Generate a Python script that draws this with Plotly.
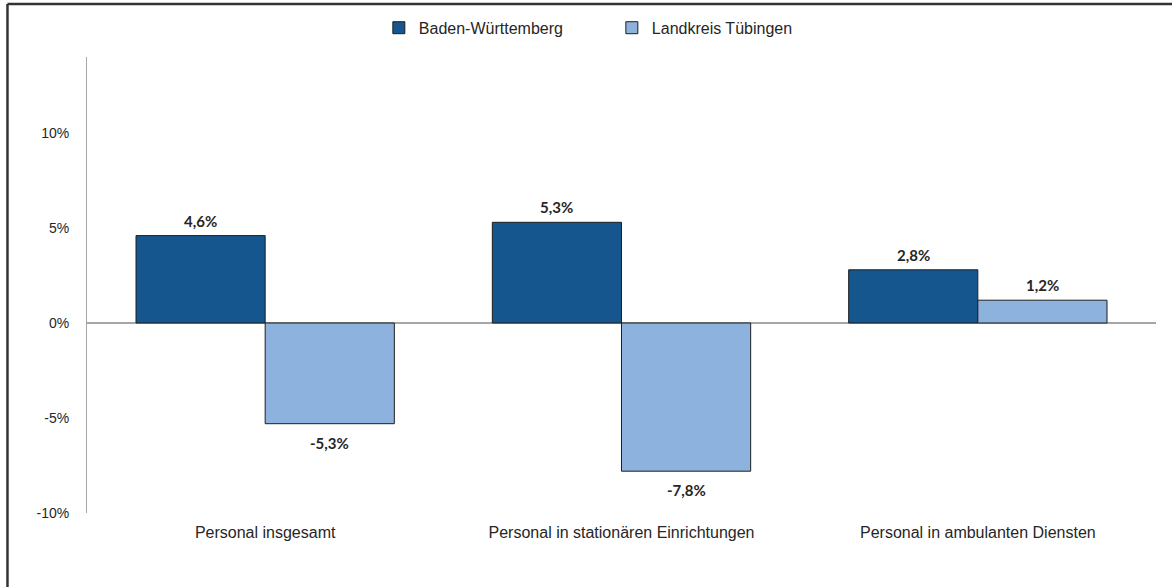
import plotly.graph_objects as go

categories = [
    "Personal insgesamt",
    "Personal in stationären Einrichtungen",
    "Personal in ambulanten Diensten",
]
baden_wuerttemberg = [4.6, 5.3, 2.8]
landkreis_tuebingen = [-5.3, -7.8, 1.2]
tick_values = [-10, -5, 0, 5, 10]
tick_labels = ["-10%", "-5%", "0%", "5%", "10%"]


def fmt(v):
    return "<b>" + f"{v:.1f}%".replace(".", ",") + "</b>"


BARGAP = 0.275
half_bar = (1 - BARGAP) / 4  # centre offset of each bar inside its group

label_font = dict(family="Lato, Open Sans, sans-serif", size=15, color="#262626")

series = [
    ("Baden-Württemberg", baden_wuerttemberg, "#15568F", -half_bar),
    ("Landkreis Tübingen", landkreis_tuebingen, "#8EB2DE", half_bar),
]

fig = go.Figure()
annotations = []
for name, values, color, offset in series:
    fig.add_trace(go.Bar(
        name=name,
        x=categories,
        y=values,
        marker=dict(color=color, line=dict(color="#1f1f1f", width=1)),
        hoverinfo="name+y",
    ))
    # value labels above positive bars and below negative ones
    for i, v in enumerate(values):
        annotations.append(dict(
            x=i + offset,
            y=v,
            xref="x",
            yref="y",
            text=fmt(v),
            showarrow=False,
            yanchor="middle",
            yshift=15 if v >= 0 else -19,
            font=label_font,
        ))

fig.update_layout(
    width=1172,
    height=587,
    margin=dict(l=87, r=16, t=57, b=74, autoexpand=False),
    paper_bgcolor="white",
    plot_bgcolor="white",
    barmode="group",
    bargap=BARGAP,
    bargroupgap=0,
    font=dict(family="Liberation Sans, Arial, sans-serif", size=14, color="#262626"),
    showlegend=True,
    legend=dict(
        orientation="h",
        x=0.273,
        xanchor="left",
        y=1.064,
        yanchor="middle",
        font=dict(size=16, color="#262626"),
        itemwidth=30,
        entrywidth=188,
        traceorder="normal",
    ),
    xaxis=dict(
        showgrid=False,
        showline=False,
        ticks="",
        zeroline=False,
        tickfont=dict(size=16, color="#262626"),
        ticklabelstandoff=8,
    ),
    yaxis=dict(
        range=[-10, 14],
        tickvals=tick_values,
        ticktext=tick_labels,
        showgrid=False,
        showline=True,
        linecolor="#a6a6a6",
        linewidth=1,
        zeroline=True,
        zerolinecolor="#a6a6a6",
        zerolinewidth=1.5,
        ticks="",
        tickfont=dict(size=14, color="#262626"),
        ticklabelstandoff=14,
    ),
    annotations=annotations,
    shapes=[
        dict(type="line", xref="paper", yref="paper", x0=-0.0744, x1=1.02,
             y0=1.116, y1=1.116, line=dict(color="#333333", width=2.5)),
        dict(type="line", xref="paper", yref="paper", x0=-0.0744, x1=-0.0744,
             y0=1.116, y1=-0.2, line=dict(color="#333333", width=2.5)),
    ],
)

fig.write_html("out.html")
